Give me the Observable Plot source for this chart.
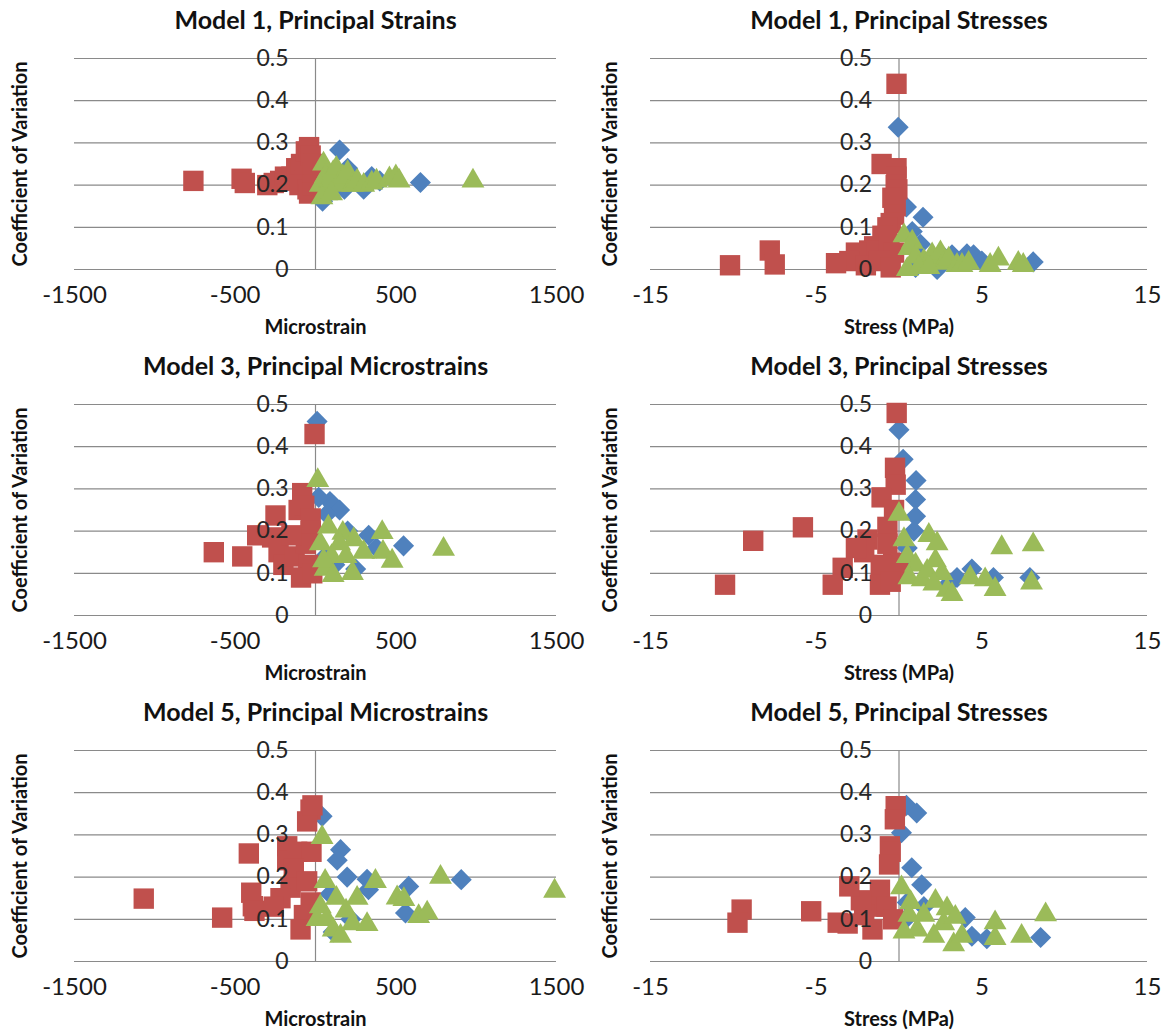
<!DOCTYPE html>
<html>
<head>
<meta charset="utf-8">
<script src="https://cdn.jsdelivr.net/npm/d3@7"></script>
<script src="https://cdn.jsdelivr.net/npm/@observablehq/plot@0.6"></script>
<style>
  html, body { margin: 0; padding: 0; background: #fff; }
  #wrap { position: relative; width: 1164px; height: 1035px; overflow: hidden; }
  .panel { position: absolute; }
</style>
</head>
<body>
<div id="wrap"></div>
<script>
// ---------- data (x value, coefficient of variation) ----------
const yTicks = [0, 0.1, 0.2, 0.3, 0.4, 0.5];
const strainTicks = [-1500, -500, 500, 1500];
const stressTicks = [-15, -5, 5, 15];

const titles = [
  "Model 1, Principal Strains", "Model 1, Principal Stresses",
  "Model 3, Principal Microstrains", "Model 3, Principal Stresses",
  "Model 5, Principal Microstrains", "Model 5, Principal Stresses"
];
const strainLabel = "Microstrain";
const stressLabel = "Stress (MPa)";
const yLabel = "Coefficient of Variation";

// Model 1 strains
const m1StrainS1 = [[150,0.283],[653,0.206],[44,0.162],[100,0.19],[180,0.19],[200,0.24],[250,0.21],[300,0.19],[350,0.22],[400,0.21],[130,0.22],[60,0.2]];
const m1StrainS2 = [[-760,0.21],[-460,0.215],[-440,0.205],[-300,0.2],[-260,0.205],[-220,0.21],[-190,0.22],[-150,0.22],[-120,0.24],[-90,0.25],[-60,0.28],[-40,0.29],[-30,0.27],[-70,0.21],[-100,0.2],[-50,0.19],[-40,0.18],[-20,0.2],[-20,0.23],[-10,0.25]];
const m1StrainS3 = [[30,0.2],[50,0.25],[60,0.22],[70,0.18],[90,0.21],[110,0.23],[130,0.24],[150,0.2],[170,0.22],[200,0.23],[230,0.2],[260,0.21],[300,0.2],[350,0.205],[380,0.21],[460,0.215],[500,0.22],[520,0.21],[980,0.21],[40,0.17],[100,0.18]];

// Model 1 stresses
const m1StressS1 = [[-0.05,0.337],[1.45,0.124],[0.45,0.148],[0.8,0.09],[1.3,0.06],[2.7,0.03],[3.2,0.035],[4.1,0.037],[4.5,0.035],[5.0,0.02],[8.1,0.018],[2.3,0.0],[1.0,0.005],[2.0,0.02]];
const m1StressS2 = [[-0.15,0.44],[-1.05,0.25],[-0.15,0.24],[-0.15,0.22],[-0.2,0.2],[-0.1,0.19],[-0.4,0.17],[-0.2,0.15],[-0.3,0.13],[-0.5,0.11],[-0.7,0.1],[-1.0,0.08],[-1.5,0.055],[-1.8,0.045],[-2.6,0.04],[-3.0,0.02],[-2.0,0.01],[-3.8,0.015],[-7.8,0.045],[-7.5,0.012],[-10.2,0.01],[-0.6,0.06],[-0.3,0.04],[-1.2,0.02],[-0.5,0.005]];
const m1StressS3 = [[0.3,0.08],[0.6,0.05],[0.8,0.065],[1.0,0.03],[1.5,0.02],[2.0,0.035],[2.3,0.02],[2.5,0.04],[2.7,0.015],[3.0,0.025],[3.5,0.01],[3.8,0.01],[4.2,0.015],[5.5,0.01],[6.0,0.025],[7.2,0.015],[7.5,0.01],[0.5,0.0],[1.2,0.005],[1.8,0.005]];

// Model 3 strains
const m3StrainS1 = [[10,0.46],[90,0.27],[114,0.26],[150,0.25],[20,0.28],[70,0.24],[200,0.2],[331,0.19],[380,0.16],[548,0.165],[250,0.11],[60,0.14],[120,0.12]];
const m3StrainS2 = [[-6,0.43],[-633,0.15],[-456,0.14],[-363,0.19],[-249,0.237],[-270,0.185],[-230,0.15],[-200,0.12],[-130,0.14],[-105,0.25],[-83,0.29],[-70,0.26],[-30,0.23],[-30,0.2],[-45,0.12],[-90,0.09],[-60,0.17],[-150,0.19],[-20,0.1]];
const m3StrainS3 = [[14,0.32],[80,0.21],[30,0.17],[60,0.11],[100,0.14],[110,0.095],[170,0.195],[190,0.14],[230,0.1],[238,0.18],[299,0.15],[415,0.197],[420,0.15],[477,0.129],[797,0.157],[150,0.17],[50,0.13]];

// Model 3 stresses
const m3StressS1 = [[0.0,0.44],[0.25,0.37],[1.03,0.32],[1.0,0.275],[1.0,0.235],[0.9,0.2],[0.5,0.16],[3.0,0.075],[3.5,0.09],[4.4,0.11],[5.7,0.09],[7.9,0.09],[0.4,0.12]];
const m3StressS2 = [[-0.14,0.48],[-0.24,0.35],[-0.2,0.31],[-1.05,0.28],[-0.3,0.25],[-0.7,0.21],[-1.9,0.18],[-0.7,0.17],[-2.1,0.15],[-0.35,0.125],[-1.1,0.12],[-0.05,0.11],[-3.4,0.113],[-1.15,0.073],[-4.0,0.073],[-5.8,0.209],[-8.8,0.177],[-10.5,0.073],[-2.6,0.16],[-0.5,0.08]];
const m3StressS3 = [[0.0,0.24],[0.3,0.18],[0.5,0.14],[1.0,0.12],[0.6,0.09],[1.4,0.085],[1.7,0.105],[1.8,0.19],[2.2,0.13],[2.3,0.17],[2.6,0.1],[2.1,0.075],[2.9,0.06],[3.2,0.05],[4.3,0.09],[5.2,0.085],[5.8,0.062],[6.2,0.161],[8.1,0.168],[8.0,0.077]];

// Model 5 strains
const m5StrainS1 = [[41,0.344],[156,0.265],[135,0.24],[197,0.2],[321,0.195],[330,0.17],[580,0.178],[907,0.194],[560,0.115],[110,0.07],[220,0.1],[90,0.16]];
const m5StrainS2 = [[-1069,0.149],[-581,0.104],[-415,0.256],[-400,0.163],[-390,0.131],[-380,0.12],[-176,0.273],[-176,0.24],[-114,0.26],[-31,0.36],[-52,0.332],[-19,0.37],[-25,0.26],[-135,0.22],[-155,0.175],[-218,0.15],[-260,0.13],[-52,0.19],[-30,0.14],[-72,0.11],[-93,0.076]];
const m5StrainS3 = [[41,0.294],[60,0.19],[30,0.13],[10,0.1],[70,0.1],[110,0.075],[130,0.15],[156,0.06],[190,0.12],[230,0.09],[259,0.15],[321,0.088],[373,0.19],[508,0.151],[550,0.147],[642,0.107],[695,0.115],[778,0.2],[1488,0.167]];

// Model 5 stresses
const m5StressS1 = [[0.45,0.37],[1.07,0.352],[0.15,0.305],[0.77,0.222],[1.37,0.182],[0.5,0.14],[1.5,0.13],[0.4,0.1],[4.0,0.104],[4.4,0.06],[5.3,0.054],[8.55,0.057]];
const m5StressS2 = [[-0.2,0.368],[-0.25,0.337],[-0.55,0.273],[-0.5,0.26],[-0.6,0.23],[-1.15,0.17],[-1.35,0.13],[-0.75,0.13],[-0.35,0.1],[-2.1,0.11],[-2.3,0.145],[-1.6,0.076],[-3.0,0.178],[-3.1,0.09],[-3.7,0.092],[-5.3,0.119],[-9.5,0.123],[-9.75,0.092]];
const m5StressS3 = [[0.15,0.175],[0.7,0.14],[0.6,0.11],[1.1,0.075],[0.3,0.07],[1.5,0.11],[2.1,0.06],[2.2,0.143],[2.7,0.09],[2.9,0.125],[3.4,0.105],[3.3,0.04],[3.8,0.06],[5.8,0.092],[5.8,0.055],[7.4,0.06],[8.85,0.111]];

// ---------- drawing ----------
const FONT = "Lato, 'Open Sans', 'DejaVu Sans', sans-serif";
const BLUE = "#4F81BD", RED = "#C0504D", GREEN = "#9BBB59", GRID = "#8a8a8a";

const panels = [
  {title: titles[0], xlabel: strainLabel, domain: [-1500, 1500], ticks: strainTicks, s: [m1StrainS1, m1StrainS2, m1StrainS3], col: 0, row: 0},
  {title: titles[1], xlabel: stressLabel, domain: [-15, 15], ticks: stressTicks, s: [m1StressS1, m1StressS2, m1StressS3], col: 1, row: 0},
  {title: titles[2], xlabel: strainLabel, domain: [-1500, 1500], ticks: strainTicks, s: [m3StrainS1, m3StrainS2, m3StrainS3], col: 0, row: 1},
  {title: titles[3], xlabel: stressLabel, domain: [-15, 15], ticks: stressTicks, s: [m3StressS1, m3StressS2, m3StressS3], col: 1, row: 1},
  {title: titles[4], xlabel: strainLabel, domain: [-1500, 1500], ticks: strainTicks, s: [m5StrainS1, m5StrainS2, m5StrainS3], col: 0, row: 2},
  {title: titles[5], xlabel: stressLabel, domain: [-15, 15], ticks: stressTicks, s: [m5StressS1, m5StressS2, m5StressS3], col: 1, row: 2}
];

const wrap = document.getElementById("wrap");
const X = d => d[0], Y = d => d[1];

for (const p of panels) {
  const left = p.col === 0;
  const chart = Plot.plot({
    width: 582,
    height: 346,
    marginTop: 58,
    marginBottom: 77,
    marginLeft: left ? 74 : 68,
    marginRight: left ? 26 : 17,
    x: {domain: p.domain, axis: null},
    y: {domain: [0, 0.5], axis: null},
    style: {fontFamily: FONT, overflow: "visible", background: "transparent"},
    marks: [
      Plot.ruleY(yTicks, {stroke: GRID, strokeWidth: 1.2}),
      Plot.ruleX([0], {y1: 0, y2: 0.5, stroke: GRID, strokeWidth: 1.2}),
      Plot.dot(p.s[0], {x: X, y: Y, symbol: "diamond2", r: 9.5, fill: BLUE}),
      Plot.dot(p.s[1], {x: X, y: Y, symbol: "square", r: 11.5, fill: RED}),
      Plot.dot(p.s[2], {x: X, y: Y, symbol: "triangle", r: 8.5, fill: GREEN}),
      Plot.text(yTicks, {x: 0, y: d => d, text: d => String(d), dx: -27, textAnchor: "end", fontSize: 23, fill: "#262626"}),
      Plot.text(p.ticks, {x: d => d, y: 0, text: d => String(d), dy: 26, fontSize: 24, fill: "#1a1a1a"}),
      Plot.text([p.title], {frameAnchor: "top", dy: -38, lineAnchor: "middle", text: d => d, fontSize: 25, fontWeight: "bold", fill: "#111"}),
      Plot.text([p.xlabel], {frameAnchor: "bottom", dy: 58, lineAnchor: "middle", text: d => d, fontSize: 20, fontWeight: "bold", fill: "#111"}),
      Plot.text([yLabel], {frameAnchor: "left", dx: left ? -54 : -40, textAnchor: "middle", lineAnchor: "middle", text: d => d, rotate: -90, fontSize: 20, fontWeight: "bold", fill: "#111"})
    ]
  });
  chart.classList.add("panel");
  chart.style.left = (p.col * 582) + "px";
  chart.style.top = (p.row * 346) + "px";
  wrap.appendChild(chart);
}
</script>
</body>
</html>
